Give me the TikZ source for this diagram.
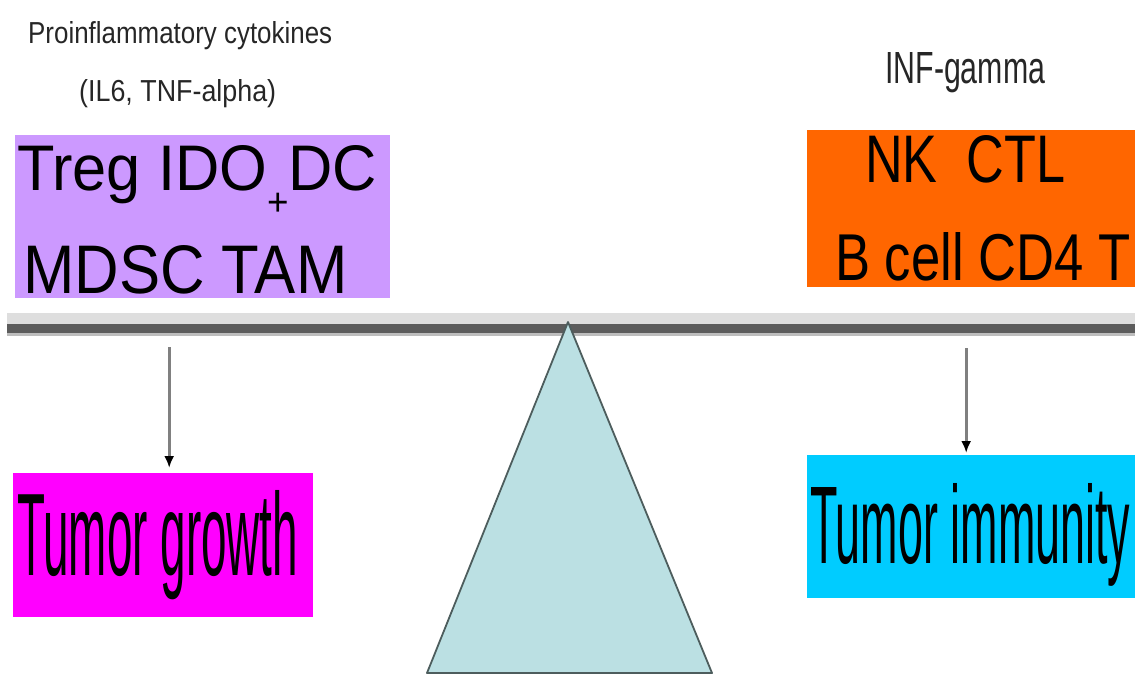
\documentclass[tikz,border=0pt]{standalone}
\usepackage{fontspec}
\setmainfont{Liberation Sans}
\usepackage{graphicx}
\usetikzlibrary{arrows.meta}

\definecolor{supprbox}{HTML}{CC99FF}
\definecolor{effectbox}{HTML}{FF6600}
\definecolor{growthbox}{HTML}{FF00FF}
\definecolor{immunebox}{HTML}{00CCFF}
\definecolor{fulcrumfill}{HTML}{BBE0E3}
\definecolor{fulcrumline}{HTML}{4D5D5D}
\definecolor{beamlight}{HTML}{DEDEDE}
\definecolor{beamdark}{HTML}{5C5C5C}
\definecolor{beamedge}{HTML}{BDBDBD}

\newcommand{\fitto}[3]{\resizebox{#1pt}{#2pt}{#3}}

\begin{document}
\begin{tikzpicture}[x=1pt, y=-1pt,
    panel/.style={inner sep=0pt, anchor=north west},
    word/.style={inner sep=0pt, anchor=base west},
    arr/.style={line width=3pt, black!50, -{Latex[length=12pt,width=10pt,color=black]}}]
    \useasboundingbox (0,0) rectangle (1135,675);

    % the four coloured boxes
    \node[panel, fill=supprbox, minimum width=375pt, minimum height=163pt] (suppr) at (15,135) {};
    \node[panel, fill=effectbox, minimum width=330pt, minimum height=157pt] (effect) at (807,130) {};
    \node[panel, fill=growthbox, minimum width=300pt, minimum height=144pt] (growth) at (13,473) {};
    \node[panel, fill=immunebox, minimum width=330pt, minimum height=143pt] (immune) at (807,455) {};

    % cytokine labels
    \node[word, black!85] (cytok) at (28,43) {\fitto{304}{22}{Proinflammatory cytokines}};
    \node[word, black!85] (ilsix) at (79,101) {\fitto{197}{22}{(IL6, TNF-alpha)}};
    \node[word, black!85] (infg) at (885,83) {\fitto{160}{31}{INF-gamma}};

    % cells
    \node[word] (treg) at (17,190) {\fitto{360}{45}{Treg IDO\raisebox{-0.4em}{\scalebox{0.6}{+}}DC}};
    \node[word] (mdsc) at (23,293) {\fitto{324}{48}{MDSC TAM}};
    \node[word] (nkctl) at (865,182) {\fitto{200}{47}{NK\ \ CTL}};
    \node[word] (bcell) at (835,280) {\fitto{295}{48}{B cell CD4 T}};
    \node[word] (tgrowth) at (17,575) {\fitto{281}{85}{Tumor growth}};
    \node[word] (timmune) at (810,563) {\fitto{320}{80}{Tumor immunity}};

    % beam
    \node[panel, fill=beamedge, minimum width=1128pt, minimum height=23pt] (beam) at (7,313) {};
    \fill[beamlight] (beam.north west) rectangle ([yshift=-11pt]beam.north east);
    \fill[beamdark] ([yshift=-11pt]beam.north west) rectangle ([yshift=3pt]beam.south east);

    % fulcrum
    \coordinate (pivot) at (568,322);
    \draw[fill=fulcrumfill, draw=fulcrumline, line width=1.8pt, line join=round]
        (pivot) -- (427,673) -- (712,673) -- cycle;

    \draw[arr] ([xshift=6pt,yshift=-11pt]beam.south -| growth.north) -- ([xshift=6pt,yshift=5pt]growth.north);
    \draw[arr] ([xshift=-6pt,yshift=-12pt]beam.south -| immune.north) -- ([xshift=-6pt,yshift=2pt]immune.north);
\end{tikzpicture}
\end{document}
